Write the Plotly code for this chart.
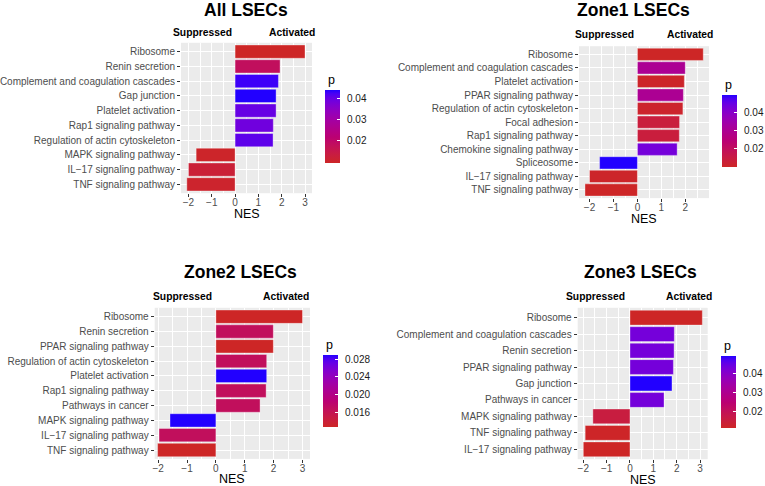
import plotly.graph_objects as go

# ---- data ----
all_terms = ["Ribosome", "Renin secretion", "Complement and coagulation cascades", "Gap junction",
             "Platelet activation", "Rap1 signaling pathway", "Regulation of actin cytoskeleton",
             "MAPK signaling pathway", "IL\u221217 signaling pathway", "TNF signaling pathway"]
all_nes = [3.0, 1.93, 1.86, 1.76, 1.76, 1.64, 1.63, -1.67, -2.0, -2.07]
all_p = [0.0089, 0.0178, 0.043, 0.0442, 0.040, 0.039, 0.041, 0.0095, 0.0114, 0.010]

z1_terms = ["Ribosome", "Complement and coagulation cascades", "Platelet activation",
            "PPAR signaling pathway", "Regulation of actin cytoskeleton", "Focal adhesion",
            "Rap1 signaling pathway", "Chemokine signaling pathway", "Spliceosome",
            "IL\u221217 signaling pathway", "TNF signaling pathway"]
z1_nes = [2.75, 2.0, 1.96, 1.92, 1.9, 1.76, 1.75, 1.66, -1.58, -2.0, -2.19]
z1_p = [0.0094, 0.030, 0.010, 0.030, 0.0105, 0.0135, 0.0135, 0.043, 0.0496, 0.010, 0.0095]

z2_terms = ["Ribosome", "Renin secretion", "PPAR signaling pathway", "Regulation of actin cytoskeleton",
            "Platelet activation", "Rap1 signaling pathway", "Pathways in cancer",
            "MAPK signaling pathway", "IL\u221217 signaling pathway", "TNF signaling pathway"]
z2_nes = [3.0, 1.99, 1.99, 1.76, 1.76, 1.74, 1.53, -1.59, -1.97, -2.02]
z2_p = [0.0127, 0.0167, 0.0127, 0.0167, 0.0289, 0.0167, 0.0167, 0.0289, 0.0167, 0.0127]

z3_terms = ["Ribosome", "Complement and coagulation cascades", "Renin secretion",
            "PPAR signaling pathway", "Gap junction", "Pathways in cancer",
            "MAPK signaling pathway", "TNF signaling pathway", "IL\u221217 signaling pathway"]
z3_nes = [3.1, 1.9, 1.89, 1.86, 1.8, 1.46, -1.59, -1.92, -2.0]
z3_p = [0.0117, 0.043, 0.043, 0.043, 0.0492, 0.043, 0.016, 0.012, 0.0117]

titles = ["All LSECs", "Zone1 LSECs", "Zone2 LSECs", "Zone3 LSECs"]
cbar_ticks = [[0.02, 0.03, 0.04], [0.02, 0.03, 0.04],
              [0.016, 0.020, 0.024, 0.028], [0.02, 0.03, 0.04]]
cbar_text = [["0.02", "0.03", "0.04"], ["0.02", "0.03", "0.04"],
             ["0.016", "0.020", "0.024", "0.028"], ["0.02", "0.03", "0.04"]]

W, H = 765, 486
FONT = "Liberation Sans, Arial, sans-serif"


# ggplot-style gradient (interpolated in Lab)
def hex_rgb(h):
    return [int(h[i:i + 2], 16) / 255 for i in (1, 3, 5)]


def to_lab(rgb):
    r, g, b = [c / 12.92 if c <= 0.04045 else ((c + 0.055) / 1.055) ** 2.4 for c in rgb]
    x = (0.4124 * r + 0.3576 * g + 0.1805 * b) / 0.95047
    y = 0.2126 * r + 0.7152 * g + 0.0722 * b
    z = (0.0193 * r + 0.1192 * g + 0.9505 * b) / 1.08883
    f = lambda t: t ** (1 / 3) if t > 0.008856 else 7.787 * t + 16 / 116
    fx, fy, fz = f(x), f(y), f(z)
    return [116 * fy - 16, 500 * (fx - fy), 200 * (fy - fz)]


def from_lab(L, a, b):
    fy = (L + 16) / 116
    fx, fz = fy + a / 500, fy - b / 200
    finv = lambda t: t ** 3 if t ** 3 > 0.008856 else (t - 16 / 116) / 7.787
    x, y, z = finv(fx) * 0.95047, finv(fy), finv(fz) * 1.08883
    lin = [3.2406 * x - 1.5372 * y - 0.4986 * z,
           -0.9689 * x + 1.8758 * y + 0.0415 * z,
           0.0557 * x - 0.2040 * y + 1.0570 * z]
    out = []
    for c in lin:
        c = 12.92 * c if c <= 0.0031308 else 1.055 * c ** (1 / 2.4) - 0.055
        out.append(int(round(min(max(c, 0), 1) * 255)))
    return "rgb(%d,%d,%d)" % tuple(out)


lo, hi = to_lab(hex_rgb("#CD2626")), to_lab(hex_rgb("#2200FF"))
cscale = []
for i in range(21):
    t = i / 20
    cscale.append([t, from_lab(*[lo[k] + (hi[k] - lo[k]) * t for k in range(3)])])

# panel geometry in pixels: (x0, x1, ytop, ybottom), x range, colorbar (x, ytop, len), title x, y
panels = [
    (all_terms, all_nes, all_p, (181, 312, 42.8, 193.2), [-2.32, 3.3], (325, 90, 73), 246, 10),
    (z1_terms, z1_nes, z1_p, (579, 709, 46.2, 198.1), [-2.44, 2.99], (722.3, 95, 72), 633.5, 10),
    (z2_terms, z2_nes, z2_p, (154.7, 310, 307.8, 458.9), [-2.12, 3.26], (323.3, 355, 72), 240, 272),
    (z3_terms, z3_nes, z3_p, (577.7, 707.7, 307.8, 459.2), [-2.24, 3.33], (721.3, 355.7, 72), 640, 272),
]
labels_pos = [  # (Suppressed x, Activated x, y)
    (202.8, 291.7, 32.3), (604.2, 690.3, 35), (182.8, 286, 296.7), (595.5, 689.3, 296.7)]
ptitle_pos = [(326, 80), (722.5, 85), (323.5, 345), (721.5, 345.5)]
CB_W = 14.5

fig = go.Figure()
annotations = []
for i, (terms, nes, pv, box, xr, cb, tx, ty) in enumerate(panels):
    n = str(i + 1) if i else ""
    x0, x1, yt, yb = box
    pmin, pmax = min(pv), max(pv)
    fig.add_trace(go.Bar(
        x=nes, y=terms, orientation="h", width=0.9,
        xaxis="x" + n, yaxis="y" + n,
        marker=dict(
            color=pv, colorscale=cscale, cmin=pmin, cmax=pmax,
            line=dict(color="rgba(255,255,255,0.35)", width=1),
            showscale=True,
            colorbar=dict(
                x=cb[0] / W, xanchor="left", xpad=0,
                y=1 - cb[1] / H, yanchor="top", ypad=0,
                len=cb[2], lenmode="pixels", thickness=CB_W, thicknessmode="pixels",
                outlinewidth=0, ticks="inside", ticklen=3, tickcolor="white", tickwidth=1,
                tickvals=cbar_ticks[i], showticklabels=False,
            ),
        ),
        hoverinfo="x+y",
    ))
    # colourbar labels as annotations so the bar does not push the margins
    for v, s in zip(cbar_ticks[i], cbar_text[i]):
        ly = cb[1] + (pmax - v) / (pmax - pmin) * cb[2]
        annotations.append(dict(
            text=s, x=(cb[0] + CB_W + 5) / W, y=1 - ly / H, xref="paper", yref="paper",
            xanchor="left", yanchor="middle", showarrow=False,
            font=dict(size=10, color="#1A1A1A", family=FONT)))
    fig.layout["xaxis" + n] = dict(
        domain=[x0 / W, x1 / W], anchor="y" + n, range=xr, automargin=False,
        tickmode="linear", tick0=0, dtick=1,
        showgrid=True, gridcolor="white", gridwidth=1.1,
        minor=dict(dtick=0.5, tick0=0, showgrid=True, gridcolor="white", gridwidth=0.5),
        zeroline=False, showline=False,
        ticks="outside", ticklen=3, tickcolor="#333333", tickwidth=1,
        ticklabelstandoff=-3,
        tickfont=dict(size=10, color="#4D4D4D", family=FONT),
    )
    fig.layout["yaxis" + n] = dict(
        domain=[1 - yb / H, 1 - yt / H], anchor="x" + n, type="category", automargin=False,
        categoryorder="array", categoryarray=terms,
        range=[len(terms) - 0.4, -0.6],
        showgrid=True, gridcolor="white", gridwidth=1.1,
        zeroline=False, showline=False,
        ticks="outside", ticklen=3, tickcolor="#333333", tickwidth=1,
        ticklabelstandoff=0,
        tickfont=dict(size=10, color="#4D4D4D", family=FONT),
    )
    # x-axis title
    annotations.append(dict(
        text="NES", x=(x0 + x1) / 2 / W, y=1 - (yb + 20.5) / H, xref="paper", yref="paper",
        xanchor="center", yanchor="middle", showarrow=False,
        font=dict(size=12.5, color="black", family=FONT)))
    annotations.append(dict(
        text="<b>%s</b>" % titles[i], x=tx / W, y=1 - ty / H, xref="paper", yref="paper",
        xanchor="center", yanchor="middle", showarrow=False,
        font=dict(size=17.5, color="black", family=FONT)))
    sx, ax, ly = labels_pos[i]
    for lbl, lx in (("Suppressed", sx), ("Activated", ax)):
        annotations.append(dict(
            text="<b>%s</b>" % lbl, x=lx / W, y=1 - ly / H, xref="paper", yref="paper",
            xanchor="center", yanchor="middle", showarrow=False,
            font=dict(size=10.3, color="black", family=FONT)))
    px_, py_ = ptitle_pos[i]
    annotations.append(dict(
        text="p", x=px_ / W, y=1 - py_ / H, xref="paper", yref="paper",
        xanchor="left", yanchor="middle", showarrow=False,
        font=dict(size=12.5, color="black", family=FONT)))

fig.update_layout(
    width=W, height=H, margin=dict(l=0, r=0, t=0, b=0),
    paper_bgcolor="white", plot_bgcolor="#EBEBEB",
    showlegend=False, bargap=0.1,
    font=dict(family=FONT),
    annotations=annotations,
)

# the page body has an 8px default margin; drop it so the figure fills the window
fig.write_html("out.html", config={"displayModeBar": False},
               post_script="document.body.style.margin='0';")
